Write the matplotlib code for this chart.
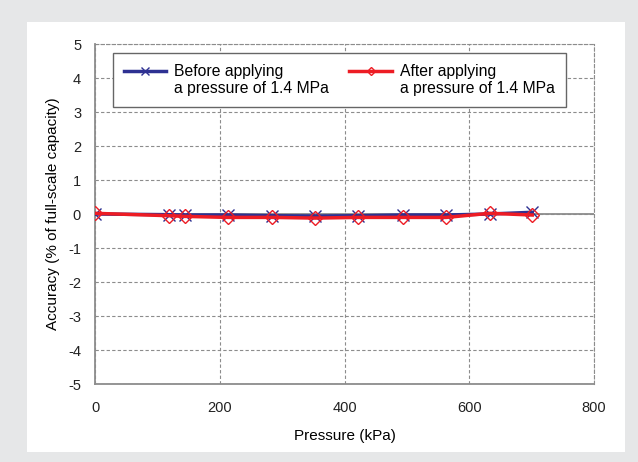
import numpy as np
import matplotlib.pyplot as plt
from matplotlib.patches import Rectangle
from matplotlib.lines import Line2D
from matplotlib.legend_handler import HandlerLine2D

plt.rcParams['font.family'] = ['Liberation Sans', 'DejaVu Sans']
plt.rcParams['axes.unicode_minus'] = False

# donnees
pression = [0, 118, 144, 213, 284, 353, 422, 494, 563, 633, 701]
avant = [0.0, -0.02, -0.03, -0.03, -0.05, -0.06, -0.05, -0.03, -0.03, 0.0, 0.05]
apres = [0.02, -0.05, -0.07, -0.1, -0.1, -0.12, -0.1, -0.1, -0.1, 0.02, -0.03]
label_avant = "Before applying\na pressure of 1.4 MPa"
label_apres = "After applying\na pressure of 1.4 MPa"
x_ticks = [0, 200, 400, 600, 800]
y_ticks = [5, 4, 3, 2, 1, 0, -1, -2, -3, -4, -5]

bleu = '#2e3192'
rouge = '#ed1c24'
gris = '#8c8c8c'
taille_leg = 11.3


# symbole de legende aligne sur la premiere ligne du texte
class LigneHaute(HandlerLine2D):
    def create_artists(self, legend, orig_handle, xdescent, ydescent,
                       width, height, fontsize, trans):
        arts = super().create_artists(legend, orig_handle, xdescent, ydescent,
                                      width, height, fontsize, trans)
        for a in arts:
            a.set_ydata(np.asarray(a.get_ydata()) + 0.6 * fontsize)
        return arts


fig = plt.figure(figsize=(6.38, 4.62), dpi=100)
fig.patch.set_facecolor('#e6e7e8')
fig.patches.append(Rectangle((27 / 638, 10 / 462), 598 / 638, 430 / 462,
                             transform=fig.transFigure, facecolor='white',
                             edgecolor='none', zorder=-5))

ax = fig.add_axes([95 / 638, 1 - 384 / 462, 499 / 638, 340 / 462])
ax.set_zorder(1)
ax.set_xlim(0, 800)
ax.set_ylim(-5, 5)
ax.set_xticks(x_ticks)
ax.set_yticks(y_ticks)
ax.tick_params(length=0, labelsize=10.5, colors='#222222')
ax.tick_params(axis='x', pad=12)
ax.tick_params(axis='y', pad=10)
ax.grid(True, linestyle=(0, (3, 2)), color=gris, linewidth=0.8)
ax.set_axisbelow(True)
ax.axhline(0, color=gris, linewidth=1.3, zorder=1)

for side in ['left', 'bottom']:
    ax.spines[side].set_color(gris)
    ax.spines[side].set_linewidth(1.3)
for side in ['top', 'right']:
    ax.spines[side].set_color(gris)
    ax.spines[side].set_linestyle((0, (3, 2)))
    ax.spines[side].set_linewidth(0.8)

ax.plot(pression, avant, color=bleu, linewidth=2.5, marker='x',
        markersize=9, markeredgewidth=1.0, label=label_avant, zorder=3)
ax.plot(pression, apres, color=rouge, linewidth=2.5, marker='D',
        markersize=7, fillstyle='none', markeredgewidth=1.0,
        label=label_apres, zorder=4)

ax.set_xlabel('Pressure (kPa)', fontsize=11, labelpad=10)
ax.set_ylabel('Accuracy (% of full-scale capacity)', fontsize=11, labelpad=6)

leg = ax.legend(loc='upper left', bbox_to_anchor=(18 / 499, 331 / 340),
                ncol=2, fontsize=taille_leg, fancybox=False,
                framealpha=1, edgecolor='#666666', handlelength=2.7,
                handletextpad=0.5, borderpad=0.7, columnspacing=1.3,
                markerscale=0.65, borderaxespad=0,
                handler_map={Line2D: LigneHaute()})
leg.get_frame().set_linewidth(1.0)

fig.savefig('out.png', dpi=100, facecolor=fig.get_facecolor())
